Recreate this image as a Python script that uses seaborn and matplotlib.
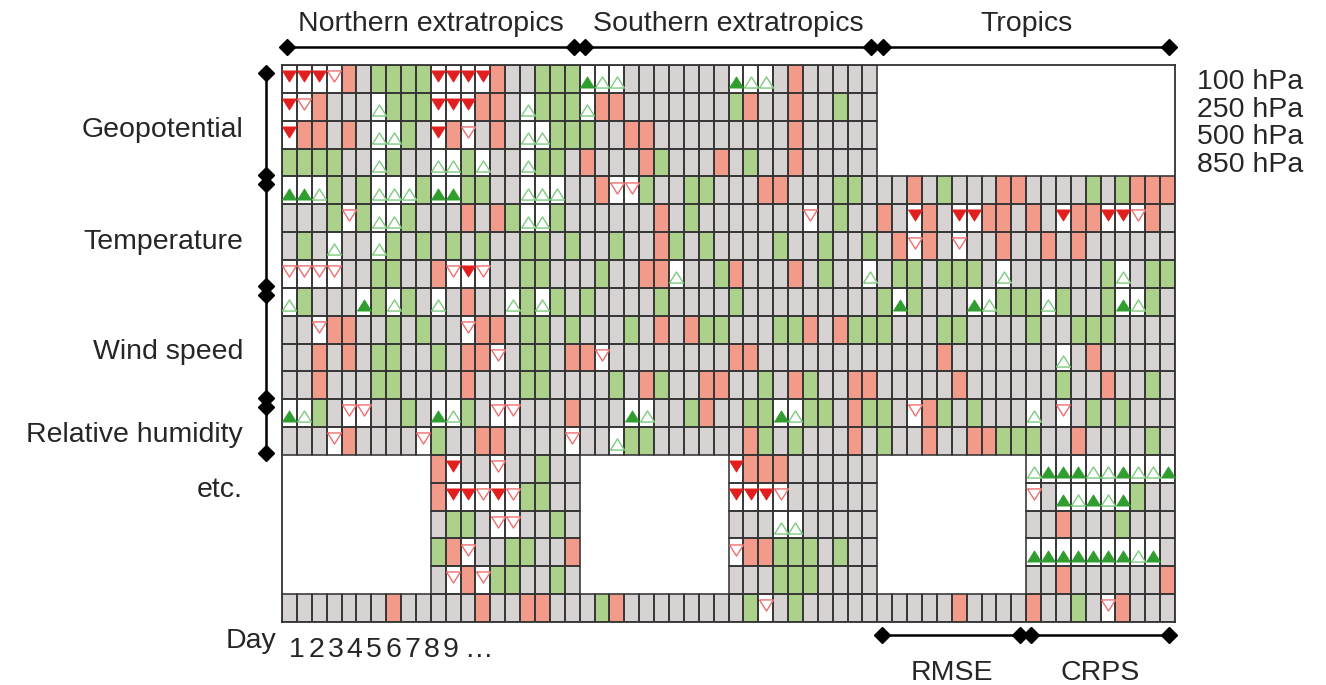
import numpy as np
import pandas as pd
import matplotlib
matplotlib.use("Agg")
import matplotlib.pyplot as plt
from matplotlib.colors import ListedColormap
from matplotlib.patches import Rectangle
from matplotlib.collections import PatchCollection
import seaborn as sns

# ---------------- data ----------------
regions = ["Northern extratropics", "Southern extratropics", "Tropics"]
metrics = ["RMSE", "CRPS"]
days = list(range(1, 11))
levels = ["100 hPa", "250 hPa", "500 hPa", "850 hPa"]
groups = [("Geopotential", 0, 4), ("Temperature", 4, 8), ("Wind speed", 8, 12),
          ("Relative humidity", 12, 14), ("etc.", 14, 20)]
row_names = ([f"Z{l}" for l in levels] + [f"T{l}" for l in levels] +
             [f"W{l}" for l in levels] + ["RH1", "RH2"] + [f"etc{i}" for i in range(6)])
day_labels = ["1", "2", "3", "4", "5", "6", "7", "8", "9", "\u2026"]

# codes: G = neutral (grey), g = better (green), r = worse (red),
# U/u = significantly better (filled/open triangle), D/d = significantly worse, . = n/a
north = [
    "DDDdrGggggDDDDrGGggg",
    "DdrGGGugggDDDrrGuggg",
    "DrrGrGuugGDrdGrGuugg",
    "ggggGGugGGuuguGGuggG",
    "UUugGguuugUUggGGuuuG",
    "GGGgdguugGGGrGrguugG",
    "GgGuGGugGgGgGgGGggGg",
    "ddddGGggGGrdDdGGggGG",
    "ugGGGUgugGuGrGGugugG",
    "GGdrrGGgGgGGdrrGggGg",
    "GGrGrGggGGgGrrdGggGr",
    "GGrGGGggGGGGrGGGggGG",
    "UugGddGGgGUugGddGGGr",
    "GGGdrGGGGdgGGrrGGGGd",
    "..........rDGGdGGgGG",
    "..........rDDdDdggGG",
    "..........GggGddGGgG",
    "..........grdGGggGGr",
    "..........GdrdggGGgG",
    "GGGGGGGrGGGGGrGGrrGG",
]
south = [
    "UuuGGGGGGGUuuGrGGGGG",
    "urrGGGGGGGgrGGrGGgGG",
    "gGGrrGGGGGGGGGrGGGGG",
    "rGGGrgGGGrGgGGrGGGGG",
    "GrddgGGggGGGrrGGGggG",
    "GGGGGrGgGGGGGGGdGgGG",
    "GGgGGrgGgGGGGgGGgGGg",
    "GgGGrruGGgrGGGrGgGGu",
    "gGGGGgGGGGgGGGGGGGGG",
    "GGGgGrGrggGGGggrGrgg",
    "rdGGGGGGGGrrGGGGGGGG",
    "GGgGrgGGrrGGgGrgGGrr",
    "GGGUuGGgrGGggUuggGrg",
    "GGuggGGGGGGrgGgGGGrG",
    "..........DrrrGGGGGG",
    "..........DDDdGGGGGG",
    "..........GGGuuGGGGG",
    "..........drrgggGgGG",
    "..........GGGgggGGGG",
    "GgrGGGGGGGGgdGgGGGGG",
]
tropics = [
    "....................",
    "....................",
    "....................",
    "....................",
    "GGrGgGGGrrGGGGgGgrrr",
    "rGDrGDDrrGrGDrrDDdrG",
    "GrdrGdGGrGGrGrGGGGGG",
    "GggGgggGuGGGGGGguGgg",
    "gUgGGGUugggugGGgUugG",
    "gGGGggGGGGgGGgggGGGG",
    "GGGGrGGGGGGGuGrGGGGG",
    "GGGGGrGGGGGGgGGrGGgG",
    "gGdrgGgGGGuGdGgGgGGG",
    "gGGrGGrrgggGGrGGGGgG",
    "..........uUUUuuUuuU",
    "..........dGUuUuUgGG",
    "..........GGrGGGgGGG",
    "..........UUUUUUUuUG",
    "..........GGrGGGGGGr",
    "GGGGGrGGGGrGGgGdrGGG",
]

# ---------------- style ----------------
GREY = "#d7d3d3"
GREEN = "#abd18b"
RED = "#f39b8b"
LINE = "#333333"
RED_FILL = "#e21f1f"
RED_OPEN = "#ee6f6f"
GREEN_FILL = "#2f9e2f"
GREEN_OPEN = "#7fcb7f"
FS = 20.5

sns.set_theme(style="white")
plt.rcParams["font.family"] = ["Liberation Sans", "DejaVu Sans"]

codes = [n + s + t for n, s, t in zip(north, south, tropics)]
cidx = {".": np.nan, "U": 0, "u": 0, "D": 0, "d": 0, "G": 1, "g": 2, "r": 3}
M = np.array([[cidx[c] for c in row] for row in codes], dtype=float)
cols = pd.MultiIndex.from_product([regions, metrics, days])
df = pd.DataFrame(M, index=row_names, columns=cols)

W, H = 1326, 685
fig = plt.figure(figsize=(W / 100, H / 100), dpi=100)
gx0, gx1, gy0, gy1 = 282, 1175, 65, 622
ax = fig.add_axes([gx0 / W, 1 - gy1 / H, (gx1 - gx0) / W, (gy1 - gy0) / H])
cmap = ListedColormap(["white", GREY, GREEN, RED])
sns.heatmap(df, ax=ax, cmap=cmap, vmin=-0.5, vmax=3.5, cbar=False,
            linewidths=0, xticklabels=False, yticklabels=False)
ax.set_xlabel("")
ax.set_ylabel("")

# cell borders only around cells that have a value
rr, cc = np.where(~np.isnan(M))
rects = [Rectangle((c, r), 1, 1) for r, c in zip(rr, cc)]
ax.add_collection(PatchCollection(rects, facecolor="none", edgecolor=LINE,
                                  linewidth=1.15, zorder=3))
for s in ax.spines.values():
    s.set_visible(True)
    s.set_color(LINE)
    s.set_linewidth(1.3)
    s.set_zorder(4)

ncol = len(regions) * len(metrics) * len(days)
nrow = len(row_names)
cw = (gx1 - gx0) / ncol
rh = (gy1 - gy0) / nrow


def X(px):
    return (px - gx0) / cw


def Y(py):
    return (py - gy0) / rh


# triangles
down_marker = [(-1, 0.8), (1, 0.8), (0, -0.8), (-1, 0.8)]
up_marker = [(-1, -0.8), (1, -0.8), (0, 0.8), (-1, -0.8)]
tri = {"D": ([], []), "d": ([], []), "U": ([], []), "u": ([], [])}
for r, row in enumerate(codes):
    for c, ch in enumerate(row):
        if ch in tri:
            tri[ch][0].append(c + 0.5)
            tri[ch][1].append(r + (0.40 if ch in "Dd" else 0.62))
S = 100
ax.scatter(*tri["D"], marker=down_marker, s=S, facecolor=RED_FILL, edgecolor=RED_FILL, linewidths=0.6, zorder=5)
ax.scatter(*tri["d"], marker=down_marker, s=S, facecolor="white", edgecolor=RED_OPEN, linewidths=1.0, zorder=5)
ax.scatter(*tri["U"], marker=up_marker, s=S, facecolor=GREEN_FILL, edgecolor=GREEN_FILL, linewidths=0.6, zorder=5)
ax.scatter(*tri["u"], marker=up_marker, s=S, facecolor="white", edgecolor=GREEN_OPEN, linewidths=1.0, zorder=5)


def bracket(xs, ys):
    ax.plot(xs, ys, color="black", lw=1.8, marker="D", ms=8.5, clip_on=False, zorder=6)


# top region brackets & titles
for i, name in enumerate(regions):
    a = i * 20
    bracket([a + 0.35, a + 20 - 0.4], [Y(47), Y(47)])
    ax.text(a + 10, Y(31), name, ha="center", va="baseline", fontsize=FS, clip_on=False)

# bottom metric brackets in tropics
for j, m in enumerate(metrics):
    a = 40 + j * 10
    bracket([a + 0.3, a + 10 - 0.4], [Y(635), Y(635)])
    ax.text(a + 5, Y(680), m, ha="center", va="baseline", fontsize=FS, clip_on=False)

# left group brackets & labels
label_base = {"Geopotential": 137, "Temperature": 249, "Wind speed": 359,
              "Relative humidity": 442, "etc.": 497}
for name, r0, r1 in groups:
    if name != "etc.":
        bracket([X(266), X(266)], [r0 + 0.27, r1 - 0.06])
    ax.text(X(243), Y(label_base[name]), name, ha="right", va="baseline", fontsize=FS, clip_on=False)

# right level labels
for k, lv in enumerate(levels):
    ax.text(X(1197), k + 0.5 + 0.1, lv, ha="left", va="center", fontsize=FS, clip_on=False)

# day labels
ax.text(X(276), Y(648), "Day", ha="right", va="baseline", fontsize=FS, clip_on=False)
for k, d in enumerate(day_labels):
    xc = 297 + 19.2 * k if k < 9 else 478
    ax.text(X(xc), Y(657), d, ha="center", va="baseline", fontsize=FS, clip_on=False)

fig.savefig("out.png", dpi=100)
